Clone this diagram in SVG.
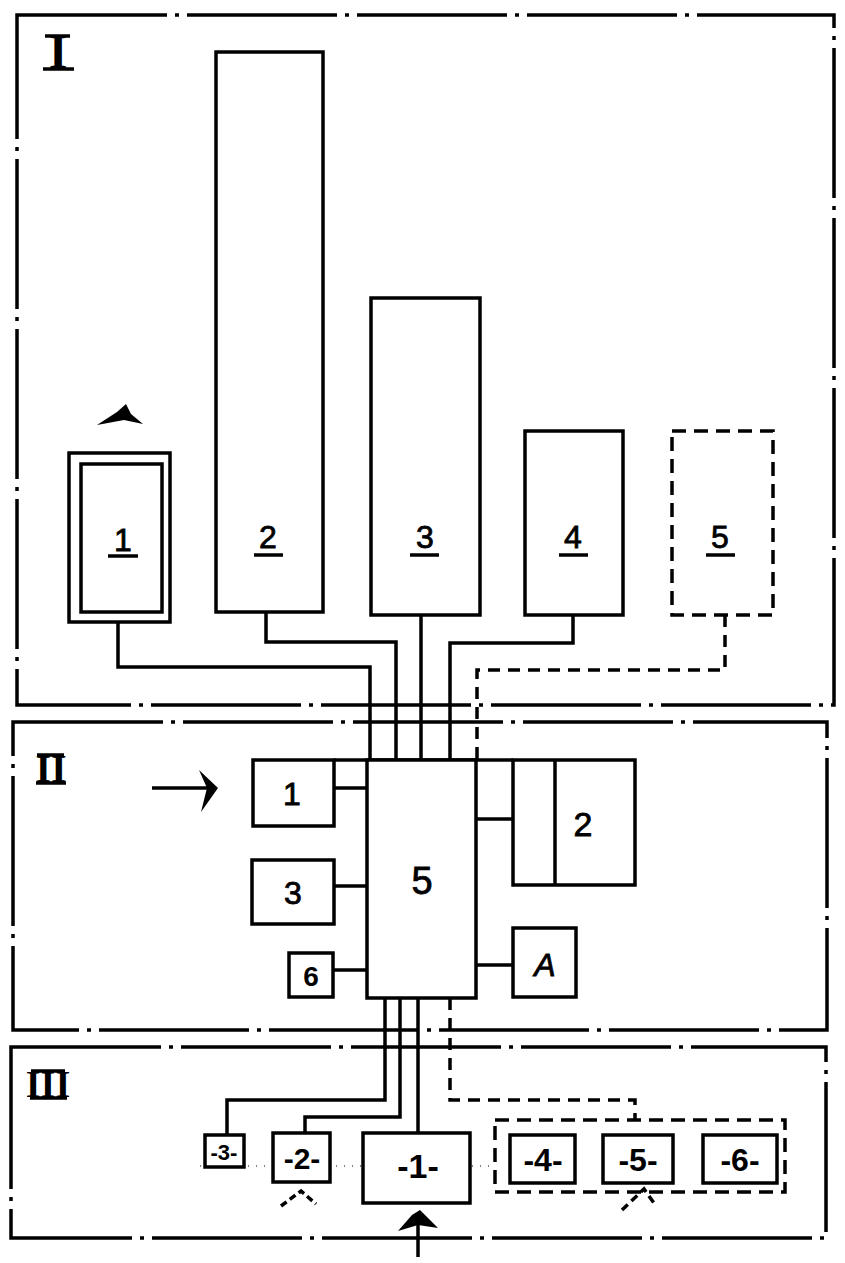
<svg xmlns="http://www.w3.org/2000/svg" width="845" height="1263" viewBox="0 0 845 1263">
<style>
.frame{fill:none;stroke:#000;stroke-width:3.5;stroke-dasharray:150 8 4 8}
.box{fill:#fff;stroke:#000;stroke-width:3.5}
.dbox{fill:#fff;stroke:#000;stroke-width:3.5;stroke-dasharray:14 8}
.ln{fill:none;stroke:#000;stroke-width:3.5}
.dln{fill:none;stroke:#000;stroke-width:3.5;stroke-dasharray:12 8}
.lbl{font-family:"Liberation Sans",Arial,sans-serif;font-size:32px;text-anchor:middle;fill:#000;stroke:#000;stroke-width:0.8}
.sm{font-family:"Liberation Sans",Arial,sans-serif;font-weight:bold;text-anchor:middle;fill:#000}
.rom{font-family:"Liberation Serif","Times New Roman",serif;font-weight:bold;text-anchor:middle;fill:#000}
</style>
<rect width="845" height="1263" fill="#fff"/>
<g id="frames">
<rect class="frame" x="17" y="15" width="817" height="690"/>
<rect class="frame" x="13" y="722" width="814" height="308"/>
<rect class="frame" x="11" y="1047" width="815" height="191"/>
<text class="rom" x="58" y="68" style="font-size:48px">I</text>
<line class="ln" x1="45" y1="36" x2="70" y2="36"/><line class="ln" x1="43" y1="69" x2="74" y2="69"/>
<text class="rom" x="51" y="782" style="font-size:40px">II</text>
<line class="ln" x1="37" y1="755" x2="64" y2="755"/><line class="ln" x1="36" y1="783" x2="66" y2="783"/>
<text class="rom" x="48" y="1097" style="font-size:38px">III</text>
<line class="ln" x1="31" y1="1071" x2="65" y2="1071"/><line class="ln" x1="30" y1="1098" x2="67" y2="1098"/>
</g>
<g id="connectors">
<polyline class="ln" points="118,622 118,667 370,667 370,760"/>
<polyline class="ln" points="266,612 266,642 396,642 396,760"/>
<polyline class="ln" points="421,615 421,760"/>
<polyline class="ln" points="573,615 573,643 450,643 450,760"/>
<polyline class="dln" points="725,615 725,670 477,670 477,760"/>
<line class="ln" x1="334" y1="760" x2="513" y2="760"/>
<line class="ln" x1="334" y1="788" x2="367" y2="788"/>
<line class="ln" x1="334" y1="886" x2="367" y2="886"/>
<line class="ln" x1="333" y1="970" x2="367" y2="970"/>
<line class="ln" x1="476" y1="819" x2="513" y2="819"/>
<line class="ln" x1="476" y1="965" x2="513" y2="965"/>
<polyline class="ln" points="385,998 385,1100 227,1100 227,1135"/>
<polyline class="ln" points="400,998 400,1117 305,1117 305,1133"/>
<polyline class="ln" points="418,998 418,1133"/>
<polyline class="dln" points="450,998 450,1100 635,1100 635,1120"/>
<line x1="200" y1="1166" x2="560" y2="1166" stroke="#000" stroke-width="1" stroke-dasharray="1 7"/>
</g>
<g id="I-1">
<rect class="box" x="69" y="453" width="101" height="169"/>
<rect class="box" x="81" y="464" width="81" height="148"/>
<text class="lbl" x="123" y="551">1</text>
<line class="ln" x1="108" y1="556" x2="138" y2="556"/>
<polygon points="97,425 117,412 126,404 131,414 143,424 124,420" fill="#000"/>
</g>
<g id="I-2">
<rect class="box" x="216" y="52" width="107" height="560"/>
<text class="lbl" x="268" y="548">2</text>
<line class="ln" x1="254" y1="555" x2="283" y2="555"/>
</g>
<g id="I-3">
<rect class="box" x="371" y="298" width="109" height="317"/>
<text class="lbl" x="425" y="548">3</text>
<line class="ln" x1="410" y1="555" x2="439" y2="555"/>
</g>
<g id="I-4">
<rect class="box" x="525" y="431" width="98" height="184"/>
<text class="lbl" x="573" y="548">4</text>
<line class="ln" x1="559" y1="555" x2="588" y2="555"/>
</g>
<g id="I-5">
<rect class="dbox" x="672" y="431" width="101" height="184"/>
<text class="lbl" x="720" y="548">5</text>
<line class="ln" x1="706" y1="555" x2="735" y2="555"/>
</g>
<g id="II-arrow">
<line class="ln" x1="152" y1="788" x2="212" y2="788"/>
<polygon points="199,770 218,788 201,812 207,788" fill="#000"/>
</g>
<g id="II-1">
<rect class="box" x="253" y="760" width="81" height="66"/>
<text class="lbl" x="292" y="805">1</text>
</g>
<g id="II-3">
<rect class="box" x="252" y="860" width="82" height="64"/>
<text class="lbl" x="293" y="904">3</text>
</g>
<g id="II-6">
<rect class="box" x="289" y="953" width="44" height="44"/>
<text class="sm" x="311" y="986" style="font-size:28px">6</text>
</g>
<g id="II-5">
<rect class="box" x="367" y="760" width="109" height="238"/>
<text class="lbl" x="422" y="894" style="font-size:38px">5</text>
</g>
<g id="II-2">
<rect class="box" x="513" y="760" width="122" height="125"/>
<line class="ln" x1="555" y1="760" x2="555" y2="885"/>
<text class="lbl" x="583" y="836" style="font-size:34px">2</text>
</g>
<g id="II-4">
<rect class="box" x="513" y="928" width="63" height="69"/>
<text class="lbl" x="545" y="976" font-style="italic">A</text>
</g>
<g id="III-3">
<rect class="box" x="205" y="1135" width="39" height="32"/>
<text class="sm" x="224" y="1160" style="font-size:22px">-3-</text>
</g>
<g id="III-2">
<rect class="box" x="273" y="1133" width="57" height="49"/>
<text class="sm" x="302" y="1169" style="font-size:30px">-2-</text>
<polyline class="ln" points="281,1206 301,1191 316,1204" stroke-dasharray="7 4"/>
</g>
<g id="III-1">
<rect class="box" x="363" y="1133" width="107" height="70"/>
<text class="sm" x="418" y="1178" style="font-size:34px">-1-</text>
<line class="ln" x1="418" y1="1257" x2="418" y2="1215"/>
<polygon points="398,1231 412,1215 420,1210 438,1228 418,1225" fill="#000"/>
</g>
<g id="III-group">
<rect class="dbox" x="495" y="1120" width="290" height="72" stroke-dasharray="12 10"/>
</g>
<g id="III-4">
<rect class="box" x="510" y="1135" width="65" height="48"/>
<text class="sm" x="543" y="1171" style="font-size:32px">-4-</text>
</g>
<g id="III-5">
<rect class="box" x="603" y="1135" width="70" height="48"/>
<text class="sm" x="638" y="1171" style="font-size:32px">-5-</text>
<polyline class="ln" points="622,1210 644,1189 656,1206" stroke-dasharray="8 5"/>
</g>
<g id="III-6">
<rect class="box" x="703" y="1135" width="74" height="48"/>
<text class="sm" x="740" y="1171" style="font-size:32px">-6-</text>
</g>
</svg>
